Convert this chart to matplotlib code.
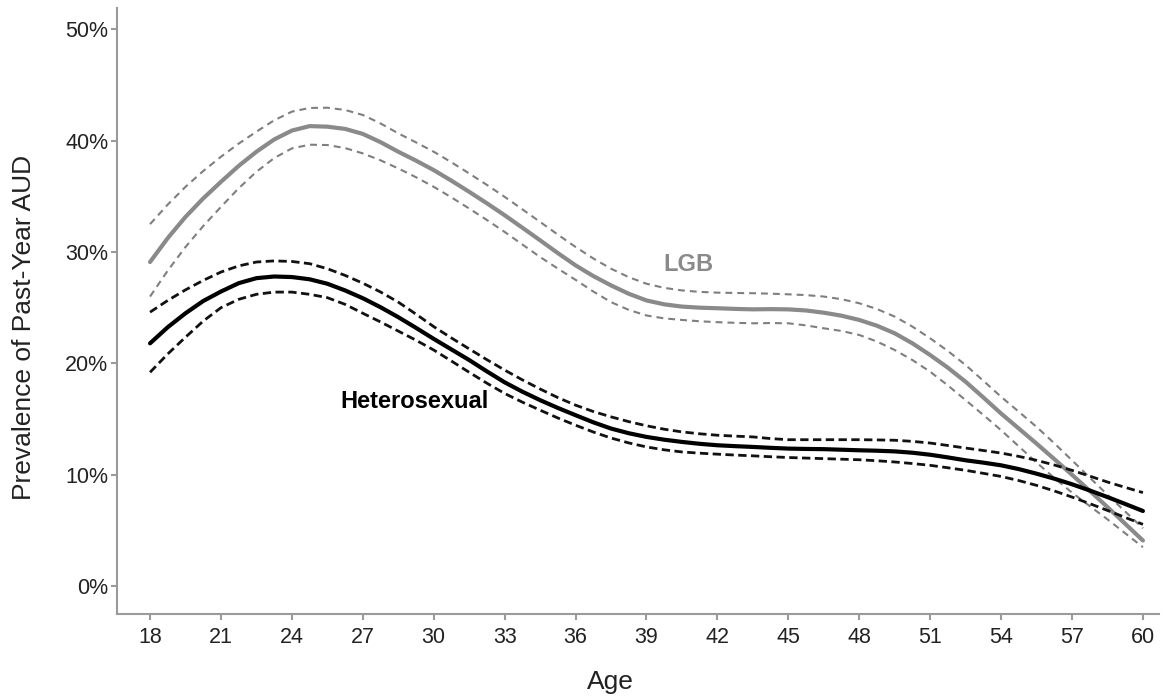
import matplotlib
matplotlib.use("Agg")
import matplotlib.pyplot as plt

plt.rcParams['font.family'] = ['Liberation Sans', 'DejaVu Sans']

# values (percent), every 0.75 years of age
ages = [18, 18.75, 19.5, 20.25, 21, 21.75, 22.5, 23.25, 24, 24.75, 25.5, 26.25, 27, 27.75,
        28.5, 29.25, 30, 30.75, 31.5, 32.25, 33, 33.75, 34.5, 35.25, 36, 36.75, 37.5, 38.25,
        39, 39.75, 40.5, 41.25, 42, 42.75, 43.5, 44.25, 45, 45.75, 46.5, 47.25, 48, 48.75,
        49.5, 50.25, 51, 51.75, 52.5, 53.25, 54, 54.75, 55.5, 56.25, 57, 57.75, 58.5, 59.25, 60]

lgb = [29.1, 31.25, 33.15, 34.81, 36.3, 37.73, 39.0, 40.1, 40.9, 41.3, 41.25, 41.05, 40.6, 39.86,
       39.0, 38.2, 37.35, 36.4, 35.4, 34.37, 33.3, 32.18, 31.05, 29.9, 28.8, 27.84, 27.0, 26.25,
       25.65, 25.3, 25.1, 25.0, 24.95, 24.89, 24.85, 24.87, 24.85, 24.75, 24.55, 24.28, 23.9, 23.38,
       22.7, 21.8, 20.75, 19.61, 18.35, 16.94, 15.5, 14.15, 12.8, 11.41, 10.0, 8.56, 7.1, 5.6, 4.1]
lgb_hi = [32.5, 34.26, 35.85, 37.27, 38.55, 39.73, 40.8, 41.82, 42.6, 42.93, 42.95, 42.75, 42.3, 41.54,
          40.65, 39.84, 39.0, 38.05, 37.05, 36.02, 34.95, 33.83, 32.7, 31.56, 30.45, 29.42, 28.5, 27.74,
          27.15, 26.78, 26.55, 26.42, 26.35, 26.32, 26.3, 26.26, 26.2, 26.13, 26.0, 25.76, 25.4, 24.88,
          24.2, 23.3, 22.25, 21.11, 19.85, 18.44, 17.0, 15.66, 14.3, 12.83, 11.3, 9.75, 8.2, 6.7, 5.2]
lgb_lo = [26.0, 28.33, 30.45, 32.33, 34.05, 35.72, 37.2, 38.43, 39.3, 39.63, 39.6, 39.33, 38.85, 38.23,
          37.5, 36.71, 35.85, 34.9, 33.9, 32.87, 31.8, 30.67, 29.55, 28.51, 27.5, 26.45, 25.5, 24.8,
          24.3, 24.04, 23.9, 23.78, 23.7, 23.64, 23.6, 23.62, 23.6, 23.41, 23.15, 22.91, 22.55, 21.96,
          21.2, 20.3, 19.25, 18.02, 16.7, 15.37, 14.0, 12.55, 11.1, 9.72, 8.4, 7.19, 6.0, 4.75, 3.5]

het = [21.8, 23.25, 24.5, 25.6, 26.45, 27.2, 27.65, 27.8, 27.75, 27.55, 27.15, 26.55, 25.85, 25.04,
       24.15, 23.19, 22.2, 21.25, 20.3, 19.28, 18.3, 17.46, 16.7, 16.0, 15.35, 14.71, 14.15, 13.73,
       13.4, 13.15, 12.95, 12.78, 12.65, 12.57, 12.5, 12.42, 12.35, 12.32, 12.3, 12.25, 12.2, 12.16,
       12.1, 11.98, 11.8, 11.56, 11.3, 11.09, 10.85, 10.51, 10.1, 9.65, 9.15, 8.59, 8.0, 7.38, 6.75]
het_hi = [24.6, 25.65, 26.6, 27.45, 28.2, 28.75, 29.1, 29.2, 29.15, 28.95, 28.5, 27.9, 27.2, 26.41,
          25.5, 24.42, 23.3, 22.28, 21.3, 20.33, 19.4, 18.52, 17.7, 16.93, 16.25, 15.68, 15.2, 14.77,
          14.4, 14.09, 13.85, 13.68, 13.55, 13.47, 13.4, 13.25, 13.15, 13.15, 13.15, 13.15, 13.15, 13.13,
          13.1, 13.0, 12.85, 12.63, 12.4, 12.18, 11.95, 11.65, 11.3, 10.88, 10.4, 9.88, 9.35, 8.87, 8.4]
het_lo = [19.2, 20.85, 22.35, 23.8, 25.0, 25.75, 26.2, 26.4, 26.4, 26.2, 25.9, 25.3, 24.5, 23.72,
          22.9, 22.08, 21.2, 20.21, 19.2, 18.22, 17.3, 16.52, 15.8, 15.1, 14.45, 13.84, 13.3, 12.86,
          12.5, 12.24, 12.05, 11.94, 11.85, 11.77, 11.7, 11.62, 11.55, 11.5, 11.45, 11.4, 11.35, 11.26,
          11.15, 11.01, 10.85, 10.63, 10.4, 10.13, 9.85, 9.48, 9.05, 8.55, 8.0, 7.41, 6.8, 6.17, 5.55]

xticks = [18, 21, 24, 27, 30, 33, 36, 39, 42, 45, 48, 51, 54, 57, 60]
yticks = [0, 10, 20, 30, 40, 50]

axis_grey = '#9a9a9a'
lgb_grey = '#8a8a8a'

fig = plt.figure(figsize=(11.66, 6.98), dpi=100)
ax = fig.add_axes([0.1003, 0.1203, 0.8937, 0.8682])

ax.plot(ages, lgb_hi, color='#7f7f7f', lw=1.5, dashes=(3.3, 2.4))
ax.plot(ages, lgb_lo, color='#7f7f7f', lw=1.5, dashes=(3.3, 2.4))
ax.plot(ages, lgb, color=lgb_grey, lw=3.0, solid_capstyle='round', solid_joinstyle='round')

ax.plot(ages, het_hi, color='#111111', lw=2.0, dashes=(3.0, 1.6))
ax.plot(ages, het_lo, color='#111111', lw=2.0, dashes=(3.0, 1.6))
ax.plot(ages, het, color='black', lw=3.0, solid_capstyle='round', solid_joinstyle='round')

ax.text(39.7, 28.3, 'LGB', color=lgb_grey, fontsize=17, fontweight='bold', ha='left', va='baseline')
ax.text(26.04, 15.98, 'Heterosexual', color='black', fontsize=17, fontweight='bold', ha='left', va='baseline')

ax.set_xlim(16.6, 60.68)
ax.set_ylim(-2.5, 51.9)
ax.set_xticks(xticks)
ax.set_xticklabels([str(t) for t in xticks])
ax.set_yticks(yticks)
ax.set_yticklabels([f'{t}%' for t in yticks])

for side in ['top', 'right']:
    ax.spines[side].set_visible(False)
for side in ['left', 'bottom']:
    ax.spines[side].set_color(axis_grey)
    ax.spines[side].set_linewidth(1.5)

ax.tick_params(axis='both', direction='out', length=4.3, width=1.5, color=axis_grey,
               labelsize=15.5, labelcolor='#222222')
ax.tick_params(axis='x', pad=5)
ax.tick_params(axis='y', pad=2)

fig.text(610 / 1166, 1 - 682 / 698, 'Age', fontsize=19, color='#222222', ha='center', va='center')
fig.text(24 / 1166, 1 - 327 / 698, 'Prevalence of Past-Year AUD', fontsize=19, color='#222222',
         ha='center', va='center', rotation=90)

fig.savefig('out.png', dpi=100)
